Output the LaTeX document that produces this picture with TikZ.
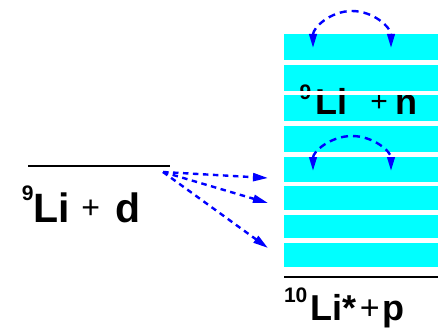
\documentclass[tikz,border=0pt]{standalone}
\usepackage{fontspec}
\setmainfont{Liberation Sans}
\usetikzlibrary{arrows.meta}
\definecolor{aqua}{RGB}{0,255,255}
\definecolor{pureblue}{RGB}{0,0,255}

\tikzset{
    level/.style={line width=2.3pt},
    gap/.style={white, line width=4.5pt},
    jump/.style={pureblue, line width=2.4pt, dash pattern=on 5.5pt off 4.5pt, -{Triangle[length=15pt,width=8pt]}},
    hop/.style={pureblue, line width=2.4pt, dash pattern=on 7pt off 5pt, {Triangle[length=14pt,width=7.5pt]}-{Triangle[length=14pt,width=7.5pt]}},
    lbl/.style={inner sep=0pt, anchor=base west, font=\bfseries\fontsize{36}{36}\selectfont}
}
\newcommand{\iso}[2]{\raisebox{#2}{\fontsize{21}{21}\selectfont #1}}
\newcommand{\pl}[2]{\raisebox{#2}{\mdseries\fontsize{#1}{#1}\selectfont +}}

\begin{document}
\begin{tikzpicture}[x=1pt, y=-1pt]
        \useasboundingbox (0, 0) rectangle (438, 329);

        % continuum of 9Li + n
        \fill [aqua] (284, 34) rectangle (438, 267);
        \node[lbl] (lin) at (299.4, 114) {\iso{9}{15pt}\hspace{3.9pt}Li\hspace{23.3pt}\pl{30}{3pt}\hspace{7.5pt}n};
        \foreach \y in {62.5, 93, 123.5, 154.5, 184, 212.5, 240.5}
            \draw [gap] (284, \y) -- (438, \y);

        % levels
        \draw [level] (28, 166) -- (170, 166);
        \draw [level] (284, 277) -- (438, 277);
        \node[lbl, font=\bfseries\fontsize{41}{41}\selectfont] (lid) at (21.6, 222) {\iso{9}{22pt}\hspace{0.3pt}Li\hspace{11.2pt}\pl{32}{3.7pt}\hspace{15.4pt}d};
        \node[lbl] (lip) at (283.8, 320) {\iso{10}{17.7pt}\hspace{3.4pt}Li*\hspace{3pt}\pl{34}{0.6pt}\hspace{2.5pt}p};

        % transfer arrows
        \coordinate (src) at (163, 172);
        \coordinate (t1) at (268, 178);
        \coordinate (t2) at (268, 203);
        \coordinate (t3) at (268, 248);
        \draw [jump] (src) -- (t1);
        \draw [jump] (src) -- (t2);
        \draw [jump] (src) -- (t3);

        % jumps inside the continuum
        \coordinate (h1) at (313, 48);
        \coordinate (h2) at (313, 171);
        \draw [hop] (h1) arc[start angle=180, end angle=0, x radius=39pt, y radius=37pt];
        \draw [hop] (h2) arc[start angle=180, end angle=0, x radius=39pt, y radius=35pt];
    \end{tikzpicture}
\end{document}
